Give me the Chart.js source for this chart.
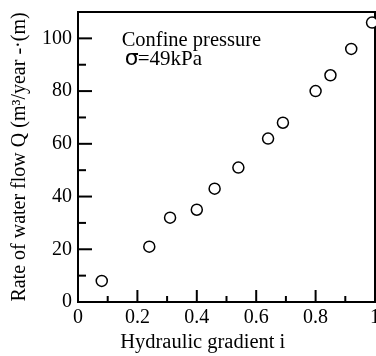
<!DOCTYPE html>
<html>
<head>
<meta charset="utf-8">
<script src="https://cdn.jsdelivr.net/npm/chart.js@4/dist/chart.umd.min.js"></script>
<style>
  html, body { margin: 0; padding: 0; background: #fff; overflow: hidden; }
  #wrap { width: 376px; height: 356px; position: relative; }
</style>
</head>
<body>
<div id="wrap"><canvas id="chart" width="376" height="356"></canvas></div>
<script>
// hydraulic gradient i vs rate of water flow Q, confine pressure 49 kPa
const gradient = [0.08, 0.24, 0.31, 0.40, 0.46, 0.54, 0.64, 0.69, 0.80, 0.85, 0.92, 0.99];
const flowRate = [8, 21, 32, 35, 43, 51, 62, 68, 80, 86, 96, 106];

const xTicks = [0, 0.2, 0.4, 0.6, 0.8, 1];
const yTicks = [0, 20, 40, 60, 80, 100];

const xTitle = "Hydraulic gradient i";
const yTitle = "Rate of water flow Q (m³/year -·(m)";

const FONT = "Liberation Serif";

// frame, inward ticks, the note in the top left and the x title
const framePlugin = {
  id: "frame",
  beforeDatasetsDraw(chart) {
    const { ctx, chartArea: a, scales } = chart;
    const xs = scales.x, ys = scales.y;
    ctx.save();
    ctx.strokeStyle = "#000";
    ctx.lineWidth = 2;
    ctx.strokeRect(a.left, a.top, a.right - a.left, a.bottom - a.top);

    // x ticks every 0.1, long on the labelled ones
    for (let k = 1; k < 10; k++) {
      const px = xs.getPixelForValue(k / 10);
      const len = k % 2 === 0 ? 12 : 6;
      ctx.beginPath();
      ctx.moveTo(px, a.bottom);
      ctx.lineTo(px, a.bottom - len);
      ctx.stroke();
    }
    // y ticks every 10
    for (let v = 10; v < 110; v += 10) {
      const py = ys.getPixelForValue(v);
      const len = v % 20 === 0 ? 14 : 8;
      ctx.beginPath();
      ctx.moveTo(a.left, py);
      ctx.lineTo(a.left + len, py);
      ctx.stroke();
    }

    ctx.fillStyle = "#000";
    ctx.textBaseline = "alphabetic";
    ctx.textAlign = "left";
    ctx.font = "20.5px '" + FONT + "'";
    const tx = xs.getPixelForValue(0.147);
    ctx.fillText("Confine pressure", tx, ys.getPixelForValue(97));
    const ty = ys.getPixelForValue(90);
    ctx.font = "22px 'DejaVu Sans'";
    ctx.fillText("σ", tx + 3, ty);
    ctx.font = "21px '" + FONT + "'";
    ctx.fillText("=49kPa", tx + 16, ty);

    // x title sits left of the plot centre in the original
    ctx.textAlign = "center";
    ctx.textBaseline = "middle";
    ctx.font = "20.5px '" + FONT + "'";
    ctx.fillText(xTitle, xs.getPixelForValue(0.42), chart.height - 13);
    ctx.restore();
  }
};

new Chart(document.getElementById("chart"), {
  type: "scatter",
  data: {
    datasets: [{
      data: gradient.map((g, i) => ({ x: g, y: flowRate[i] })),
      pointStyle: "circle",
      pointRadius: 5.5,
      pointBorderWidth: 1.5,
      borderColor: "#000",
      backgroundColor: "#fff",
      clip: false
    }]
  },
  options: {
    responsive: false,
    animation: false,
    layout: { autoPadding: false, padding: { left: 0, right: 1, top: 12, bottom: 0 } },
    plugins: { legend: { display: false }, tooltip: { enabled: false } },
    scales: {
      x: {
        type: "linear",
        min: 0,
        max: 1,
        afterBuildTicks: (s) => { s.ticks = xTicks.map((v) => ({ value: v })); },
        afterFit: (s) => { s.height = 54; s.paddingLeft = 0; s.paddingRight = 0; },
        grid: { display: false, drawTicks: false },
        border: { display: false },
        ticks: {
          color: "#000", padding: 4, maxRotation: 0, autoSkip: false,
          font: { family: FONT, size: 20 },
          callback: (v) => String(Math.round(v * 10) / 10)
        },
        title: { display: false }
      },
      y: {
        type: "linear",
        min: 0,
        max: 110,
        afterBuildTicks: (s) => { s.ticks = yTicks.map((v) => ({ value: v })); },
        afterFit: (s) => { s.width = 78; s.paddingTop = 0; s.paddingBottom = 0; },
        grid: { display: false, drawTicks: false },
        border: { display: false },
        ticks: { color: "#000", padding: 6, autoSkip: false, font: { family: FONT, size: 20 } },
        title: {
          display: true,
          text: yTitle,
          color: "#000",
          font: { family: FONT, size: 20 },
          padding: { top: 8, bottom: 0 }
        }
      }
    }
  },
  plugins: [framePlugin]
});
</script>
</body>
</html>
